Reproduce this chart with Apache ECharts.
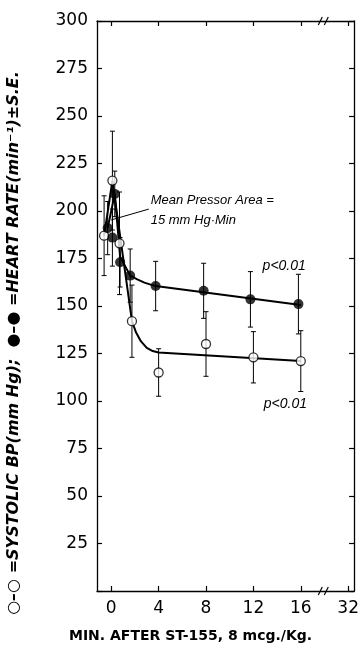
<!DOCTYPE html>
<html>
<head>
<meta charset="utf-8">
<script src="https://cdn.jsdelivr.net/npm/echarts@6/dist/echarts.min.js"></script>
<style>
html, body { margin: 0; padding: 0; background: #fff; }
#chart { width: 362px; height: 648px; }
</style>
</head>
<body>
<div id="chart"></div>
<script>
// x axis is broken after 16 min: the 32 min tick sits where 20 would be
const xTicks = [0, 4, 8, 12, 16, 20]
const xTickLabels = ['0', '4', '8', '12', '16', '32']

// systolic BP (open circles), mean and S.E.
const bpTime = [-0.6, 0.1, 0.7, 1.75, 4, 8, 12, 16]
const bpMean = [187, 216, 183, 142, 115, 130, 123, 121]
const bpSE = [21, 26, 27, 19, 12.5, 17, 13.5, 16]

// heart rate (filled circles), mean and S.E.
const hrTime = [-0.3, 0.1, 0.3, 0.75, 1.6, 3.75, 7.8, 11.75, 15.8]
const hrMean = [191, 186, 209, 173, 166, 160.5, 158, 153.5, 151]
const hrSE = [14, 15, 12, 13, 14, 13, 14.5, 14.6, 15.7]

// hand drawn fitted curves
const bpCurveX = [-0.6, 0.1, 1.75, 2.1, 2.5, 3, 3.5, 4, 16]
const bpCurveY = [187, 216, 142, 136, 131.5, 128, 126.3, 125.5, 121]
const hrCurveX = [-0.3, 0.3, 0.75, 1.6, 2.2, 2.8, 3.4, 3.75, 16]
const hrCurveY = [191, 209, 176, 166, 164, 162.3, 161.1, 160.5, 150.5]

// annotation "Mean Pressor Area" leader line
const leaderX = [3.17, 0]
const leaderY = [201, 195.3]

const pairs = (xs, ys) => xs.map((x, i) => [x, ys[i]])
const bars = (ts, ms, ss) => ts.map((t, i) => [t, ms[i] - ss[i], ms[i] + ss[i]])

const chart = echarts.init(document.getElementById('chart'))

function renderBar(params, api) {
  const x = api.value(0)
  const lo = api.coord([x, api.value(1)])
  const hi = api.coord([x, api.value(2)])
  const cap = 2.5
  const st = { stroke: '#000', lineWidth: 1 }
  return {
    type: 'group',
    children: [
      { type: 'line', shape: { x1: lo[0], y1: lo[1], x2: hi[0], y2: hi[1] }, style: st },
      { type: 'line', shape: { x1: hi[0] - cap, y1: hi[1], x2: hi[0] + cap, y2: hi[1] }, style: st },
      { type: 'line', shape: { x1: lo[0] - cap, y1: lo[1], x2: lo[0] + cap, y2: lo[1] }, style: st }
    ]
  }
}

const axisLine = { show: true, onZero: false, lineStyle: { color: '#000', width: 1.3 } }
const xBase = {
  type: 'value',
  min: -1.2,
  max: 20.5,
  axisLine: axisLine,
  splitLine: { show: false },
  axisTick: { show: true, inside: true, length: 5, customValues: xTicks, lineStyle: { color: '#000', width: 1.2 } }
}
const yBase = {
  type: 'value',
  min: 0,
  max: 300,
  interval: 25,
  axisLine: axisLine,
  splitLine: { show: false },
  axisTick: { show: true, inside: true, length: 5, lineStyle: { color: '#000', width: 1.2 } }
}

chart.setOption({
  animation: false,
  grid: { left: 97, right: 4, top: 21, bottom: 53 },
  xAxis: [
    Object.assign({}, xBase, {
      position: 'bottom',
      axisLabel: {
        customValues: xTicks,
        formatter: v => xTickLabels[xTicks.indexOf(v)],
        color: '#000', fontSize: 17, fontFamily: 'DejaVu Sans', margin: 9
      },
      name: 'MIN. AFTER ST-155, 8 mcg./Kg.',
      nameLocation: 'middle',
      nameGap: 38,
      nameTextStyle: { color: '#000', fontSize: 14, fontWeight: 'bold', fontFamily: 'DejaVu Sans', padding: [0, 70, 0, 0] }
    }),
    Object.assign({}, xBase, { position: 'top', axisLabel: { show: false } })
  ],
  yAxis: [
    Object.assign({}, yBase, {
      position: 'left',
      axisLabel: {
        formatter: v => (v === 0 ? '' : String(v)),
        color: '#000', fontSize: 17, fontFamily: 'DejaVu Sans', margin: 9
      }
    }),
    Object.assign({}, yBase, { position: 'right', axisLabel: { show: false } })
  ],
  series: [
    {
      type: 'custom', renderItem: renderBar, data: bars(bpTime, bpMean, bpSE),
      encode: { x: 0, y: [1, 2] }, z: 1
    },
    {
      type: 'custom', renderItem: renderBar, data: bars(hrTime, hrMean, hrSE),
      encode: { x: 0, y: [1, 2] }, z: 1
    },
    {
      type: 'line', data: pairs(bpCurveX, bpCurveY), symbol: 'none',
      lineStyle: { color: '#000', width: 2 }, z: 2
    },
    {
      type: 'line', data: pairs(hrCurveX, hrCurveY), symbol: 'none',
      lineStyle: { color: '#000', width: 2 }, z: 2
    },
    {
      type: 'line', data: pairs(leaderX, leaderY), symbol: 'none',
      lineStyle: { color: '#000', width: 1 }, z: 2
    },
    {
      type: 'scatter', data: pairs(bpTime, bpMean), symbol: 'circle', symbolSize: 9,
      itemStyle: { color: '#fff', borderColor: '#000', borderWidth: 1.3 }, z: 3
    },
    {
      type: 'scatter', data: pairs(hrTime, hrMean), symbol: 'circle', symbolSize: 10,
      itemStyle: { color: '#000' }, z: 4
    }
  ]
})

// texts and axis break marks, placed through the chart's own scales
const px = (x, y) => chart.convertToPixel({ gridIndex: 0 }, [x, y])
const italic = { fill: '#000', fontStyle: 'italic', fontFamily: 'Liberation Sans' }
const mpa = px(3.33, 200.5)
const p1 = px(14.6, 171)
const p2 = px(14.7, 98.4)
const brk = px(17.9, 0)
const brkTop = px(17.9, 300)

function breakMark(x, y) {
  const st = { stroke: '#000', lineWidth: 1.2 }
  return {
    type: 'group',
    children: [
      { type: 'rect', shape: { x: x - 4, y: y - 2, width: 8, height: 4 }, style: { fill: '#fff' } },
      { type: 'line', shape: { x1: x - 5, y1: y + 4, x2: x - 1, y2: y - 4 }, style: st },
      { type: 'line', shape: { x1: x + 1, y1: y + 4, x2: x + 5, y2: y - 4 }, style: st }
    ]
  }
}

chart.setOption({
  graphic: [
    {
      type: 'text', x: mpa[0], y: mpa[1],
      style: Object.assign({ text: 'Mean Pressor Area =\n15 mm Hg·Min', fontSize: 13, lineHeight: 20, verticalAlign: 'middle', align: 'left' }, italic)
    },
    {
      type: 'text', x: p1[0], y: p1[1],
      style: Object.assign({ text: 'p<0.01', fontSize: 14, align: 'center', verticalAlign: 'middle' }, italic)
    },
    {
      type: 'text', x: p2[0], y: p2[1],
      style: Object.assign({ text: 'p<0.01', fontSize: 14, align: 'center', verticalAlign: 'middle' }, italic)
    },
    breakMark(brk[0], brk[1]),
    breakMark(brkTop[0], brkTop[1]),
    {
      type: 'text', x: 14, y: 343, rotation: Math.PI / 2,
      style: {
        text: '○–○ =SYSTOLIC BP(mm Hg);  ●–● =HEART RATE(min⁻¹)±S.E.',
        fill: '#000', fontSize: 16, fontWeight: 'bold', fontStyle: 'italic',
        fontFamily: 'DejaVu Sans', align: 'center', verticalAlign: 'middle'
      }
    }
  ]
})
</script>
</body>
</html>
